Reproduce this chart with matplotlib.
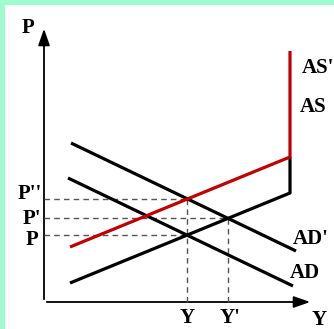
import matplotlib.pyplot as plt
from matplotlib.patches import FancyArrowPatch, Rectangle

# curves (x, y) in chart units, origin at the axes corner
as_x = [26, 246, 246]
as_y = [19, 109, 145]
as2_x = [26, 246, 246]
as2_y = [55, 145, 251]
ad_x = [24, 249]
ad_y = [124, 16]
ad2_x = [27, 252]
ad2_y = [159, 51]


def cross(x1, y1, x2, y2):
    # intersection of two straight segments (first two points of each)
    m1 = (y1[1] - y1[0]) / (x1[1] - x1[0])
    m2 = (y2[1] - y2[0]) / (x2[1] - x2[0])
    x = (y2[0] - m2 * x2[0] - y1[0] + m1 * x1[0]) / (m1 - m2)
    return x, y1[0] + m1 * (x - x1[0])


yA, pA = cross(as_x, as_y, ad_x, ad_y)       # Y, P
yB, pB = cross(as_x, as_y, ad2_x, ad2_y)     # Y', P'
yC, pC = cross(as2_x, as2_y, ad2_x, ad2_y)   # Y, P''

W, H = 334, 329
fig = plt.figure(figsize=(W / 100, H / 100), dpi=100, facecolor='#9ffcd0')
# white panel inside the mint border
fig.patches.append(Rectangle((5 / W, 0), (W - 5) / W, (H - 5) / H, transform=fig.transFigure,
                             facecolor='white', edgecolor='none', zorder=-5))
ax = fig.add_axes([5 / W, 0, (W - 5) / W, (H - 5) / H])
ax.set_xlim(5 - 44, W - 44)
ax.set_ylim(302 - H, 302 - 5)
ax.axis('off')

# axes with arrows
ax.add_patch(FancyArrowPatch((0, 0), (0, 276), arrowstyle='-|>,head_length=10,head_width=3.5',
                             mutation_scale=1, lw=1.3, color='black'))
ax.add_patch(FancyArrowPatch((0, 0), (269, 0), arrowstyle='-|>,head_length=10,head_width=3.5',
                             mutation_scale=1, lw=1.3, color='black'))

# dashed guides
dash = dict(color='#555555', lw=1, ls=(0, (4, 3)))
for px, py in [(yA, pA), (yB, pB), (yC, pC)]:
    ax.plot([0, px], [py, py], **dash)
ax.plot([yA, yA], [0, pC], **dash)
ax.plot([yB, yB], [0, pB], **dash)

# curves
ax.plot(ad_x, ad_y, color='black', lw=2.3, solid_capstyle='butt')
ax.plot(ad2_x, ad2_y, color='black', lw=2.3, solid_capstyle='butt')
ax.plot(as_x, as_y, color='black', lw=2.3, solid_capstyle='butt')
ax.plot(as2_x, as2_y, color='#c00000', lw=2.3, solid_capstyle='butt')

txt = dict(family='Liberation Serif', fontweight='bold', fontsize=15)
ax.text(-16, 274, 'P', ha='center', va='center', **txt)
ax.text(275, -18, 'Y', ha='center', va='center', **txt)
ax.text(yA, -16, 'Y', ha='center', va='center', **txt)
ax.text(yB + 2, -16, "Y'", ha='center', va='center', **txt)
ax.text(-2, pC + 5, "P''", ha='right', va='center', **txt)
ax.text(-3, pB - 1, "P'", ha='right', va='center', **txt)
ax.text(-6, pA - 5, 'P', ha='right', va='center', **txt)
ax.text(258, 234, "AS'", ha='left', va='center', **txt)
ax.text(256, 195, 'AS', ha='left', va='center', **txt)
ax.text(249, 63, "AD'", ha='left', va='center', **txt)
ax.text(246, 29, 'AD', ha='left', va='center', **txt)

plt.savefig('out.png', dpi=100, facecolor=fig.get_facecolor())
